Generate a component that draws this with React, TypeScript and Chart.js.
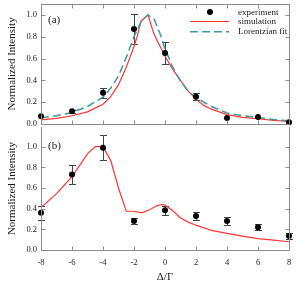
import React, { useEffect, useRef } from "react";
import { Chart, registerables } from "chart.js";

Chart.register(...registerables);

// ---------- data ----------
const xTickValues = [-8, -6, -4, -2, 0, 2, 4, 6, 8];
const yTickValues = [0, 0.2, 0.4, 0.6, 0.8, 1.0];

// panel (a)
const expAx = [-8, -6, -4, -2, 0, 2, 4, 6, 8];
const expAy = [0.07, 0.115, 0.285, 0.87, 0.65, 0.25, 0.055, 0.063, 0.015];
const expAerr = [0, 0.012, 0.045, 0.135, 0.1, 0.035, 0, 0, 0];

const simAx = [-8, -7, -6, -5, -4, -3.5, -3, -2.5, -2, -1.8, -1.55, -1.1, -0.75, -0.5, -0.2, 0, 0.5, 1, 1.5, 2, 2.5, 3, 4, 5, 6, 7, 8];
const simAy = [0.036, 0.05, 0.075, 0.11, 0.18, 0.25, 0.36, 0.52, 0.71, 0.8, 0.94, 1.0, 0.84, 0.76, 0.68, 0.62, 0.5, 0.4, 0.3, 0.225, 0.17, 0.135, 0.085, 0.06, 0.047, 0.033, 0.022];

const lorAx = [-8, -7, -6, -5, -4, -3.5, -3, -2.5, -2, -1.5, -1.1, -0.7, -0.3, 0, 0.5, 1, 1.5, 2, 3, 4, 5, 6, 7, 8];
const lorAy = [0.056, 0.075, 0.105, 0.16, 0.245, 0.33, 0.44, 0.61, 0.8, 0.95, 1.0, 0.96, 0.82, 0.69, 0.52, 0.39, 0.3, 0.24, 0.16, 0.1, 0.075, 0.058, 0.04, 0.028];

// panel (b)
const expBx = [-8, -6, -4, -2, 0, 2, 4, 6, 8];
const expBy = [0.36, 0.73, 0.99, 0.28, 0.385, 0.33, 0.28, 0.22, 0.135];
const expBerr = [0.065, 0.09, 0.12, 0.03, 0.045, 0.04, 0.035, 0.03, 0.03];

const simBx = [-8, -7, -6, -5, -4.5, -4, -3.5, -3, -2.5, -2, -1.5, -1, -0.5, -0.2, 0, 0.5, 1, 1.5, 2, 3, 4, 5, 6, 7, 8];
const simBy = [0.41, 0.545, 0.71, 0.93, 1.0, 1.0, 0.865, 0.6, 0.375, 0.375, 0.36, 0.39, 0.43, 0.44, 0.435, 0.38, 0.31, 0.27, 0.24, 0.19, 0.16, 0.135, 0.11, 0.095, 0.08];

// ---------- styles ----------
const FONT = "'Liberation Serif', 'Times New Roman', serif";
const RED = "#ff3535";
const TEAL = "#3a9a9c";
const AXIS = "#8c8c8c";
const TEXT = "#1a1a1a";

const pts = (xs: number[], ys: number[]) => xs.map((x, i) => ({ x, y: ys[i] }));

type Cfg = {
  label: string;
  errX: number[];
  errY: number[];
  errE: number[];
  legend: boolean;
  topFrame: boolean;
  labelDy: number;
};

function decorPlugin(cfg: Cfg) {
  return {
    id: "decor_" + cfg.label.replace(/[()]/g, ""),
    beforeDatasetsDraw(chart: any) {
      const { ctx } = chart;
      const xs = chart.scales.x;
      const ys = chart.scales.y;
      ctx.save();
      ctx.strokeStyle = "#444";
      ctx.lineWidth = 1;
      cfg.errX.forEach((xv, i) => {
        const e = cfg.errE[i];
        if (!e) return;
        const px = Math.round(xs.getPixelForValue(xv)) + 0.5;
        const y1 = Math.round(ys.getPixelForValue(cfg.errY[i] + e)) + 0.5;
        const y2 = Math.round(ys.getPixelForValue(cfg.errY[i] - e)) + 0.5;
        ctx.beginPath();
        ctx.moveTo(px, y1);
        ctx.lineTo(px, y2);
        ctx.moveTo(px - 3.5, y1);
        ctx.lineTo(px + 3.5, y1);
        ctx.moveTo(px - 3.5, y2);
        ctx.lineTo(px + 3.5, y2);
        ctx.stroke();
      });
      ctx.restore();
    },
    afterDraw(chart: any) {
      const { ctx, chartArea: a } = chart;
      const xs = chart.scales.x;
      const ys = chart.scales.y;
      const L = Math.round(a.left) + 0.5;
      const R = Math.round(a.right) + 0.5;
      const T = Math.round(a.top) + 0.5;
      const B = Math.round(a.bottom) + 0.5;
      ctx.save();
      ctx.strokeStyle = AXIS;
      ctx.lineWidth = 1;
      ctx.beginPath();
      ctx.moveTo(L, T - 0.5);
      ctx.lineTo(L, B);
      ctx.moveTo(R, T - 0.5);
      ctx.lineTo(R, B);
      ctx.moveTo(L, B);
      ctx.lineTo(R, B);
      if (cfg.topFrame) {
        ctx.moveTo(L, T);
        ctx.lineTo(R, T);
      }
      xTickValues.forEach((v) => {
        const px = Math.round(xs.getPixelForValue(v)) + 0.5;
        ctx.moveTo(px, B);
        ctx.lineTo(px, B - 4);
        if (cfg.topFrame) {
          ctx.moveTo(px, T);
          ctx.lineTo(px, T + 4);
        }
      });
      yTickValues.forEach((v) => {
        const py = Math.round(ys.getPixelForValue(v)) + 0.5;
        ctx.moveTo(L, py);
        ctx.lineTo(L + 4, py);
        ctx.moveTo(R, py);
        ctx.lineTo(R - 4, py);
      });
      ctx.stroke();

      // panel label
      ctx.fillStyle = TEXT;
      ctx.font = `11px ${FONT}`;
      ctx.textAlign = "left";
      ctx.textBaseline = "middle";
      ctx.fillText(cfg.label, a.left + 7, a.top + cfg.labelDy);

      if (cfg.legend) {
        const lx0 = a.right - 99;
        const lx1 = a.right - 60;
        const tx = a.right - 51;
        // dot
        ctx.fillStyle = "#000";
        ctx.beginPath();
        ctx.arc(a.right - 79, a.top + 8, 3, 0, Math.PI * 2);
        ctx.fill();
        // red line
        ctx.strokeStyle = RED;
        ctx.lineWidth = 1.2;
        ctx.beginPath();
        ctx.moveTo(lx0, a.top + 17.5);
        ctx.lineTo(lx1, a.top + 17.5);
        ctx.stroke();
        // teal dashed
        ctx.strokeStyle = TEAL;
        ctx.lineWidth = 1.5;
        ctx.setLineDash([8, 4]);
        ctx.beginPath();
        ctx.moveTo(lx0, a.top + 27.7);
        ctx.lineTo(lx1, a.top + 27.7);
        ctx.stroke();
        ctx.setLineDash([]);
        ctx.fillStyle = TEXT;
        ctx.font = `9px ${FONT}`;
        ctx.textBaseline = "middle";
        ctx.fillText("experiment", tx, a.top + 8.5);
        ctx.fillText("simulation", tx, a.top + 18);
        ctx.fillText("Lorentzian fit", tx, a.top + 28);
      }
      ctx.restore();
    },
  };
}

function yScale(max: number) {
  return {
    type: "linear" as const,
    min: 0,
    max,
    grid: { display: false, drawTicks: false },
    border: { display: false },
    ticks: {
      stepSize: 0.2,
      includeBounds: false,
      padding: 4,
      color: TEXT,
      font: { family: FONT, size: 8.5 },
      callback: (v: any) => Number(v).toFixed(1),
    },
    title: {
      display: true,
      text: "Normalized Intensity",
      color: TEXT,
      font: { family: FONT, size: 11 },
      padding: { top: 5.5, bottom: 4 },
    },
    afterFit: (s: any) => {
      s.width = 41;
    },
  };
}

function PanelChart(props: {
  width: number;
  height: number;
  top: number;
  build: (canvas: HTMLCanvasElement) => Chart;
}) {
  const ref = useRef<HTMLCanvasElement | null>(null);
  useEffect(() => {
    if (!ref.current) return;
    const c = props.build(ref.current);
    return () => c.destroy();
  }, []);
  return (
    <canvas
      ref={ref}
      width={props.width}
      height={props.height}
      style={{ position: "absolute", left: 0, top: props.top, width: props.width, height: props.height, display: "block" }}
    />
  );
}

function buildTop(canvas: HTMLCanvasElement) {
  return new Chart(canvas, {
    type: "scatter",
    data: {
      datasets: [
        {
          data: pts(expAx, expAy),
          pointRadius: 3,
          pointBackgroundColor: "#000",
          pointBorderColor: "#000",
          pointBorderWidth: 0,
          showLine: false,
          order: 0,
          clip: false,
        } as any,
        {
          data: pts(lorAx, lorAy),
          showLine: true,
          borderColor: TEAL,
          borderWidth: 1.5,
          borderDash: [8, 4],
          pointRadius: 0,
          fill: false,
          tension: 0,
          order: 1,
        },
        {
          data: pts(simAx, simAy),
          showLine: true,
          borderColor: RED,
          borderWidth: 1.2,
          pointRadius: 0,
          fill: false,
          tension: 0,
          order: 2,
        },
      ],
    },
    options: {
      responsive: false,
      animation: false,
      devicePixelRatio: 1,
      events: [],
      layout: { padding: { left: 0, right: 11, top: 10, bottom: 6 } },
      plugins: { legend: { display: false }, tooltip: { enabled: false } },
      scales: {
        x: { type: "linear", min: -8, max: 8, display: false },
        y: yScale(1.1) as any,
      },
    },
    plugins: [
      decorPlugin({
        label: "(a)",
        errX: expAx,
        errY: expAy,
        errE: expAerr,
        legend: true,
        topFrame: true,
        labelDy: 16.5,
      }),
    ],
  });
}

function buildBottom(canvas: HTMLCanvasElement) {
  return new Chart(canvas, {
    type: "scatter",
    data: {
      datasets: [
        {
          data: pts(expBx, expBy),
          pointRadius: 3,
          pointBackgroundColor: "#000",
          pointBorderColor: "#000",
          pointBorderWidth: 0,
          showLine: false,
          order: 0,
          clip: false,
        } as any,
        {
          data: pts(simBx, simBy),
          showLine: true,
          borderColor: RED,
          borderWidth: 1.2,
          pointRadius: 0,
          fill: false,
          tension: 0,
          order: 2,
        },
      ],
    },
    options: {
      responsive: false,
      animation: false,
      devicePixelRatio: 1,
      events: [],
      layout: { padding: { left: 0, right: 11, top: 10, bottom: 0 } },
      plugins: { legend: { display: false }, tooltip: { enabled: false } },
      scales: {
        x: {
          type: "linear",
          min: -8,
          max: 8,
          grid: { display: false, drawTicks: false },
          border: { display: false },
          ticks: {
            stepSize: 2,
            includeBounds: false,
            padding: 8,
            color: TEXT,
            font: { family: FONT, size: 8.5 },
            maxRotation: 0,
            callback: (v: any) => String(v),
          },
          title: {
            display: true,
            text: "Δ/Γ",
            color: TEXT,
            font: { family: FONT, size: 11 },
            padding: { top: 4, bottom: 4 },
          },
          afterFit: (s: any) => {
            s.height = 38;
          },
        } as any,
        y: yScale(1.19) as any,
      },
    },
    plugins: [
      decorPlugin({
        label: "(b)",
        errX: expBx,
        errY: expBy,
        errE: expBerr,
        legend: false,
        topFrame: false,
        labelDy: 19.5,
      }),
    ],
  });
}

export default function App() {
  return (
    <div style={{ position: "absolute", left: 0, top: 0, width: 300, height: 288, background: "#fff", overflow: "hidden" }}>
      <PanelChart width={300} height={139} top={-6} build={buildTop} />
      <PanelChart width={300} height={171} top={117} build={buildBottom} />
    </div>
  );
}
